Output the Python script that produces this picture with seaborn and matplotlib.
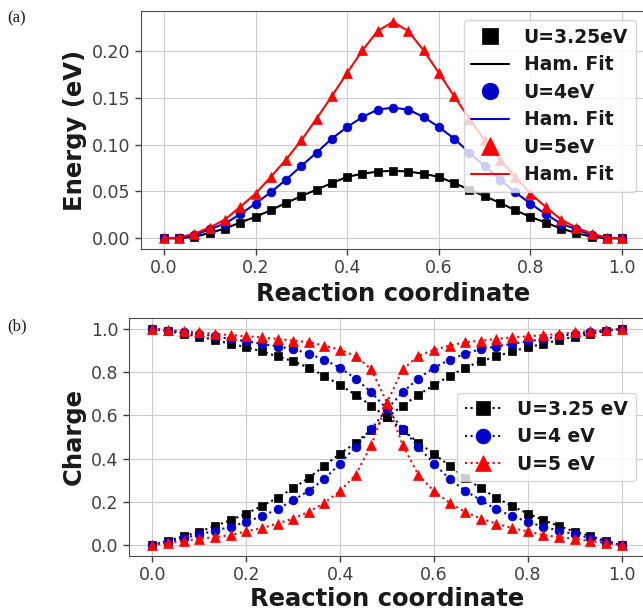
import numpy as np
import pandas as pd
import matplotlib
matplotlib.use("Agg")
import matplotlib.pyplot as plt
import seaborn as sns

# ---------------- data ----------------
coord = [i / 30 for i in range(31)]

energy_u325 = [0.0, 0.0, 0.0014, 0.0057, 0.0103, 0.0168, 0.0228, 0.0300, 0.0378, 0.0450,
               0.0520, 0.0590, 0.0656, 0.0690, 0.0713, 0.0722, 0.0713, 0.0690, 0.0656, 0.0590,
               0.0520, 0.0450, 0.0378, 0.0300, 0.0228, 0.0168, 0.0103, 0.0057, 0.0014, 0.0, 0.0]
energy_u4 = [0.0, 0.0, 0.0032, 0.0096, 0.0157, 0.0257, 0.0370, 0.0492, 0.0627, 0.0774,
             0.0916, 0.1066, 0.1190, 0.1297, 0.1376, 0.1397, 0.1376, 0.1297, 0.1190, 0.1066,
             0.0916, 0.0774, 0.0627, 0.0492, 0.0370, 0.0257, 0.0157, 0.0096, 0.0032, 0.0, 0.0]
energy_u5 = [0.0, 0.0007, 0.0050, 0.0114, 0.0200, 0.0335, 0.0478, 0.0656, 0.0842, 0.1048,
             0.1280, 0.1520, 0.1770, 0.2010, 0.2217, 0.2315, 0.2217, 0.2010, 0.1770, 0.1520,
             0.1280, 0.1048, 0.0842, 0.0656, 0.0478, 0.0335, 0.0200, 0.0114, 0.0050, 0.0007, 0.0]

charge_dec_u325 = [1.0, 0.990, 0.976, 0.964, 0.948, 0.930, 0.915, 0.895, 0.872, 0.850,
                   0.820, 0.782, 0.740, 0.694, 0.645, 0.590, 0.534, 0.473, 0.423, 0.367,
                   0.311, 0.263, 0.219, 0.181, 0.146, 0.116, 0.088, 0.063, 0.042, 0.021, 0.0]
charge_inc_u325 = [0.0, 0.021, 0.042, 0.063, 0.088, 0.116, 0.146, 0.181, 0.219, 0.263,
                   0.311, 0.367, 0.423, 0.473, 0.534, 0.590, 0.645, 0.694, 0.740, 0.782,
                   0.820, 0.850, 0.872, 0.895, 0.915, 0.930, 0.948, 0.964, 0.976, 0.990, 1.0]
charge_dec_u4 = [1.0, 0.991, 0.983, 0.976, 0.965, 0.953, 0.942, 0.930, 0.918, 0.907,
                 0.884, 0.857, 0.819, 0.770, 0.706, 0.629, 0.537, 0.455, 0.377, 0.306,
                 0.252, 0.207, 0.166, 0.134, 0.108, 0.085, 0.067, 0.050, 0.032, 0.017, 0.0]
charge_inc_u4 = [0.0, 0.017, 0.032, 0.050, 0.067, 0.085, 0.108, 0.134, 0.166, 0.207,
                 0.252, 0.306, 0.377, 0.455, 0.537, 0.629, 0.706, 0.770, 0.819, 0.857,
                 0.884, 0.907, 0.918, 0.930, 0.942, 0.953, 0.965, 0.976, 0.983, 0.991, 1.0]
charge_dec_u5 = [1.0, 0.995, 0.989, 0.983, 0.976, 0.971, 0.965, 0.960, 0.953, 0.945,
                 0.938, 0.922, 0.903, 0.874, 0.812, 0.659, 0.463, 0.326, 0.250, 0.196,
                 0.154, 0.123, 0.100, 0.079, 0.064, 0.047, 0.037, 0.030, 0.019, 0.010, 0.0]
charge_inc_u5 = [0.0, 0.010, 0.019, 0.030, 0.037, 0.047, 0.064, 0.079, 0.100, 0.123,
                 0.154, 0.196, 0.250, 0.326, 0.463, 0.659, 0.812, 0.874, 0.903, 0.922,
                 0.938, 0.945, 0.953, 0.960, 0.965, 0.971, 0.976, 0.983, 0.989, 0.995, 1.0]

labels_top = ["U=3.25eV", "U=4eV", "U=5eV"]
labels_bottom = ["U=3.25 eV", "U=4 eV", "U=5 eV"]
fit_label = "Ham. Fit"
colors = ["black", "mediumblue", "red"]
markers = ["s", "o", "^"]

# ---------------- style ----------------
sns.set_style("whitegrid", rc={
    "axes.edgecolor": "0.3",
    "axes.linewidth": 1.0,
    "grid.color": "0.8",
    "grid.linewidth": 1.0,
    "xtick.bottom": True,
    "ytick.left": True,
    "xtick.color": "0.25",
    "ytick.color": "0.25",
    "text.color": "0.1",
    "axes.labelcolor": "0.1",
})
plt.rcParams["font.family"] = ["DejaVu Sans"]

fig = plt.figure(figsize=(6.43, 6.12), dpi=100)
ax1 = fig.add_axes([0.2193, 0.5931, 0.7838, 0.3889])
ax2 = fig.add_axes([0.2006, 0.0915, 0.8025, 0.3890])

tick_fs = 12.5
label_fs = 17.5
legend_fs = 13.5

# ---------------- top panel ----------------
energies = [energy_u325, energy_u4, energy_u5]
msizes = [6, 6.3, 6.8]
for e, lab, c, m, ms in zip(energies, labels_top, colors, markers, msizes):
    df = pd.DataFrame({"x": coord, "y": e})
    sns.lineplot(data=df, x="x", y="y", ax=ax1, color=c, marker=m, linestyle="none",
                 markersize=ms, markeredgecolor=c, markeredgewidth=0.5, label=lab,
                 sort=False, legend=False)
    sns.lineplot(data=df, x="x", y="y", ax=ax1, color=c, linewidth=1.5,
                 label=fit_label, sort=False, legend=False)

ax1.set_xticks([0.0, 0.2, 0.4, 0.6, 0.8, 1.0])
ax1.set_yticks([0.0, 0.05, 0.10, 0.15, 0.20])
ax1.yaxis.set_major_formatter(matplotlib.ticker.FormatStrFormatter("%.2f"))
ax1.xaxis.set_major_formatter(matplotlib.ticker.FormatStrFormatter("%.1f"))
ax1.set_xlabel("Reaction coordinate", fontsize=label_fs, fontweight="bold", labelpad=3)
ax1.set_ylabel("Energy (eV)", fontsize=label_fs, fontweight="bold")
ax1.tick_params(labelsize=tick_fs, length=4, width=1)
ax1.legend(loc="upper right", prop={"size": legend_fs, "weight": "bold"},
           markerscale=1.9, handlelength=2.0, labelspacing=0.45, borderpad=0.4)

# ---------------- bottom panel ----------------
charges = [(charge_dec_u325, charge_inc_u325), (charge_dec_u4, charge_inc_u4),
           (charge_dec_u5, charge_inc_u5)]
for (dec, inc), lab, c, m, ms in zip(charges, labels_bottom, colors, markers, msizes):
    for k, branch in enumerate((dec, inc)):
        df = pd.DataFrame({"x": coord, "y": branch})
        sns.lineplot(data=df, x="x", y="y", ax=ax2, color=c, marker=m, linestyle=":",
                     linewidth=1.5, markersize=ms, markeredgecolor=c, markeredgewidth=0.5,
                     label=lab if k == 0 else None, sort=False, legend=False)

ax2.set_xticks([0.0, 0.2, 0.4, 0.6, 0.8, 1.0])
ax2.set_yticks([0.0, 0.2, 0.4, 0.6, 0.8, 1.0])
ax2.xaxis.set_major_formatter(matplotlib.ticker.FormatStrFormatter("%.1f"))
ax2.yaxis.set_major_formatter(matplotlib.ticker.FormatStrFormatter("%.1f"))
ax2.set_xlabel("Reaction coordinate", fontsize=label_fs, fontweight="bold", labelpad=1.5)
ax2.set_ylabel("Charge", fontsize=label_fs, fontweight="bold")
ax2.tick_params(labelsize=tick_fs, length=4, width=1)
ax2.legend(loc="center right", prop={"size": legend_fs, "weight": "bold"},
           markerscale=1.7, handlelength=2.0, labelspacing=0.45, borderpad=0.4)

fig.text(0.012, 0.970, "(a)", fontsize=12, family="Liberation Serif", va="center")
fig.text(0.012, 0.467, "(b)", fontsize=12, family="Liberation Serif", va="center")

fig.savefig("out.png", dpi=100)
